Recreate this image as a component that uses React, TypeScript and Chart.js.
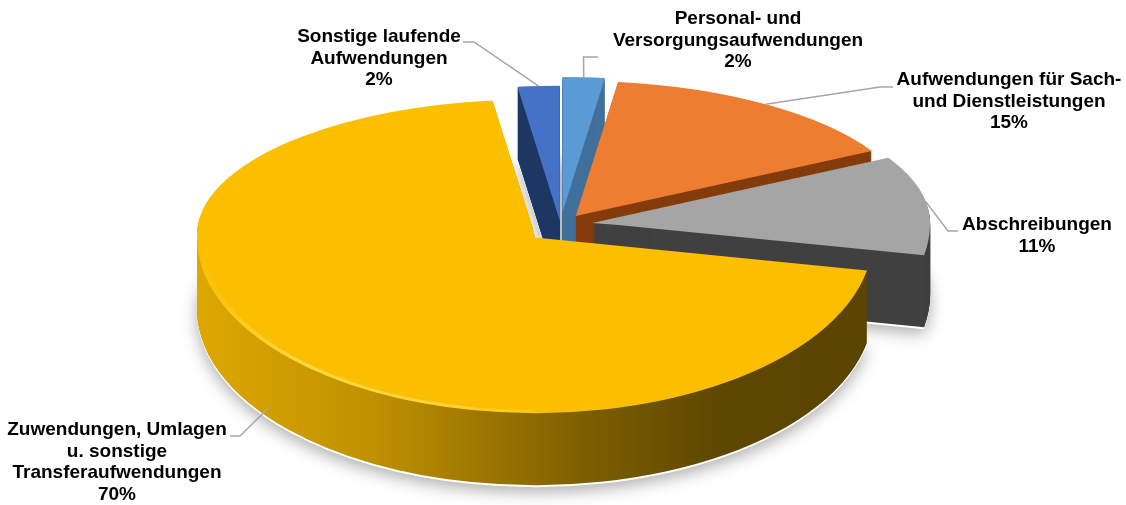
import { useEffect, useRef } from "react";
import { Chart, registerables } from "chart.js";

Chart.register(...registerables);

// ---------- data ----------
const CATEGORIES = [
  "Personal- und Versorgungsaufwendungen",
  "Aufwendungen für Sach- und Dienstleistungen",
  "Abschreibungen",
  "Zuwendungen, Umlagen u. sonstige Transferaufwendungen",
  "Sonstige laufende Aufwendungen",
];
const VALUES = [2, 15, 11, 70, 2];
const LABEL_LINES = [
  ["Personal- und", "Versorgungsaufwendungen"],
  ["Aufwendungen für Sach-", "und Dienstleistungen"],
  ["Abschreibungen"],
  ["Zuwendungen, Umlagen", "u. sonstige", "Transferaufwendungen"],
  ["Sonstige laufende", "Aufwendungen"],
];

// ---------- style ----------
const TOP_COLORS = ["#5B9BD5", "#ED7D31", "#A5A5A5", "#FBBF00", "#4472C4"];
const SIDE_COLORS = ["#41719C", "#843C0C", "#404040", "GRADIENT", "#1F3864"];
const EXPLODE = [32, 27, 32, 35, 10];
const SIDE_ORDER = [0, 4, 1, 2, 3];
const K_BACK = 0.4;
const K_FRONT = 0.52;
const DEPTH = 72;
const RADIUS = 338;
const FONT = 'bold 19px "Liberation Sans", Arial, sans-serif';
const LINE_H = 21.5;
const LABEL_POS = [
  { x: 738, y: 19 },
  { x: 1009, y: 80 },
  { x: 1037, y: 225 },
  { x: 117, y: 430 },
  { x: 379, y: 37 },
];
// anchor: angle in degrees clockwise from 12 o'clock (null = slice middle), depth below top face
const LEADERS: { angle: number | null; depth: number; pts: number[][] }[] = [
  { angle: null, depth: 0, pts: [[583.5, 57], [598, 57]] },
  { angle: null, depth: 0, pts: [[880, 87], [893, 87]] },
  { angle: null, depth: 0, pts: [[948, 231], [958, 231]] },
  { angle: 232, depth: 62, pts: [[240, 436], [230, 436]] },
  { angle: null, depth: 0, pts: [[474, 42], [463, 42]] },
];
const RIM_SLICE = 3;
const RIM_FROM = 180;
const RIM_TO = 262;

function withMapping(ctx: CanvasRenderingContext2D, cy: number, L: number, w: number, h: number, fn: () => void, halves = 3) {
  const seam = Math.round(cy + L);
  if (halves & 1) {
    ctx.save();
    ctx.beginPath();
    ctx.rect(-10, -2000, w + 20, seam + 2000);
    ctx.clip();
    ctx.translate(0, cy + L);
    ctx.scale(1, K_BACK);
    ctx.translate(0, -cy);
    fn();
    ctx.restore();
  }
  if (halves & 2) {
    ctx.save();
    ctx.beginPath();
    ctx.rect(-10, seam, w + 20, h + 4000);
    ctx.clip();
    ctx.translate(0, cy + L);
    ctx.scale(1, K_FRONT);
    ctx.translate(0, -cy);
    fn();
    ctx.restore();
  }
}

function drawArc(ctx: CanvasRenderingContext2D, arc: any, i: number, fill: any) {
  const mid = (arc.startAngle + arc.endAngle) / 2;
  ctx.save();
  ctx.translate(Math.cos(mid) * EXPLODE[i], Math.sin(mid) * EXPLODE[i]);
  const o = arc.options;
  arc.options = { ...o, backgroundColor: fill, borderWidth: 0, offset: 0 };
  arc.draw(ctx);
  arc.options = o;
  ctx.restore();
}

function mapPoint(cy: number, X: number, Y: number, L: number) {
  const y = Y < cy ? cy + (Y - cy) * K_BACK : cy + (Y - cy) * K_FRONT;
  return [X, y + L];
}

const pie3d = {
  id: "pie3d",
  beforeDatasetsDraw(chart: any) {
    const ctx: CanvasRenderingContext2D = chart.ctx;
    const arcs = chart.getDatasetMeta(0).data;
    if (!arcs.length) return false;
    const cy = arcs[0].y;
    const w = chart.width, h = chart.height;
    const yellowGrad = () => {
      const g = ctx.createLinearGradient(190, 0, 880, 0);
      g.addColorStop(0, "#E3AC00");
      g.addColorStop(0.3, "#C09100");
      g.addColorStop(0.6, "#7F6000");
      g.addColorStop(0.8, "#5E4700");
      g.addColorStop(1, "#5A4400");
      return g;
    };
    // soft shadow
    withMapping(ctx, cy, DEPTH + 2, w, h, () => {
      ctx.shadowColor = "rgba(0,0,0,0.32)";
      ctx.shadowBlur = 16;
      ctx.shadowOffsetY = 5;
      for (const i of SIDE_ORDER) drawArc(ctx, arcs[i], i, "#ffffff");
    });
    // extruded sides
    for (let L = DEPTH; L >= 1; L--) {
      withMapping(ctx, cy, L, w, h, () => {
        for (const i of SIDE_ORDER) {
          const fill = SIDE_COLORS[i] === "GRADIENT" ? yellowGrad() : SIDE_COLORS[i];
          drawArc(ctx, arcs[i], i, fill);
        }
      });
    }
    // top faces
    withMapping(ctx, cy, 0, w, h, () => {
      for (const i of SIDE_ORDER) drawArc(ctx, arcs[i], i, TOP_COLORS[i]);
    });
    // soft bevel highlight on the front rim of the big slice
    const arc = arcs[RIM_SLICE];
    const mid = (arc.startAngle + arc.endAngle) / 2;
    withMapping(ctx, cy, 0, w, h, () => {
      const g = ctx.createLinearGradient(200, 0, 580, 0);
      g.addColorStop(0, "rgba(255,230,120,0)");
      g.addColorStop(0.25, "rgba(255,230,120,0.6)");
      g.addColorStop(0.65, "rgba(255,230,120,0.5)");
      g.addColorStop(1, "rgba(255,230,120,0)");
      ctx.strokeStyle = g;
      ctx.lineWidth = 5;
      ctx.beginPath();
      ctx.arc(
        arc.x + Math.cos(mid) * EXPLODE[RIM_SLICE],
        arc.y + Math.sin(mid) * EXPLODE[RIM_SLICE],
        arc.outerRadius - 3,
        ((RIM_FROM - 90) * Math.PI) / 180,
        ((RIM_TO - 90) * Math.PI) / 180
      );
      ctx.stroke();
    }, 2);
    return false;
  },
  afterDraw(chart: any) {
    const ctx: CanvasRenderingContext2D = chart.ctx;
    const arcs = chart.getDatasetMeta(0).data;
    const total = VALUES.reduce((a, b) => a + b, 0);
    ctx.save();
    // leader lines
    ctx.strokeStyle = "#A6A6A6";
    ctx.lineWidth = 1.5;
    arcs.forEach((arc: any, i: number) => {
      const lead = LEADERS[i];
      const mid = (arc.startAngle + arc.endAngle) / 2;
      const a = lead.angle === null ? mid : ((lead.angle - 90) * Math.PI) / 180;
      const X = arc.x + Math.cos(mid) * EXPLODE[i] + Math.cos(a) * arc.outerRadius;
      const Y = arc.y + Math.sin(mid) * EXPLODE[i] + Math.sin(a) * arc.outerRadius;
      const p = mapPoint(arc.y, X, Y, lead.depth);
      ctx.beginPath();
      ctx.moveTo(p[0], p[1]);
      for (const q of lead.pts) ctx.lineTo(q[0], q[1]);
      ctx.stroke();
    });
    // labels
    ctx.fillStyle = "#000000";
    ctx.font = FONT;
    ctx.textAlign = "center";
    ctx.textBaseline = "middle";
    LABEL_LINES.forEach((lines, i) => {
      const pct = Math.round((VALUES[i] / total) * 100) + "%";
      const all = [...lines, pct];
      all.forEach((t, j) => ctx.fillText(t, LABEL_POS[i].x, LABEL_POS[i].y + j * LINE_H));
    });
    ctx.restore();
  },
};

export default function App() {
  const ref = useRef<HTMLCanvasElement>(null);
  useEffect(() => {
    document.body.style.margin = "0";
    const chart = new Chart(ref.current as HTMLCanvasElement, {
      type: "pie",
      data: {
        labels: CATEGORIES,
        datasets: [{ data: VALUES, backgroundColor: TOP_COLORS, borderWidth: 0 }],
      },
      options: {
        responsive: false,
        animation: false,
        radius: RADIUS,
        layout: { padding: { bottom: 55, right: 5 } },
        plugins: { legend: { display: false }, tooltip: { enabled: false } },
        events: [],
      } as any,
      plugins: [pie3d as any],
    });
    return () => chart.destroy();
  }, []);
  return (
    <div style={{ width: 1126, height: 505, background: "#ffffff" }}>
      <canvas ref={ref} width={1126} height={505} style={{ display: "block" }} />
    </div>
  );
}
